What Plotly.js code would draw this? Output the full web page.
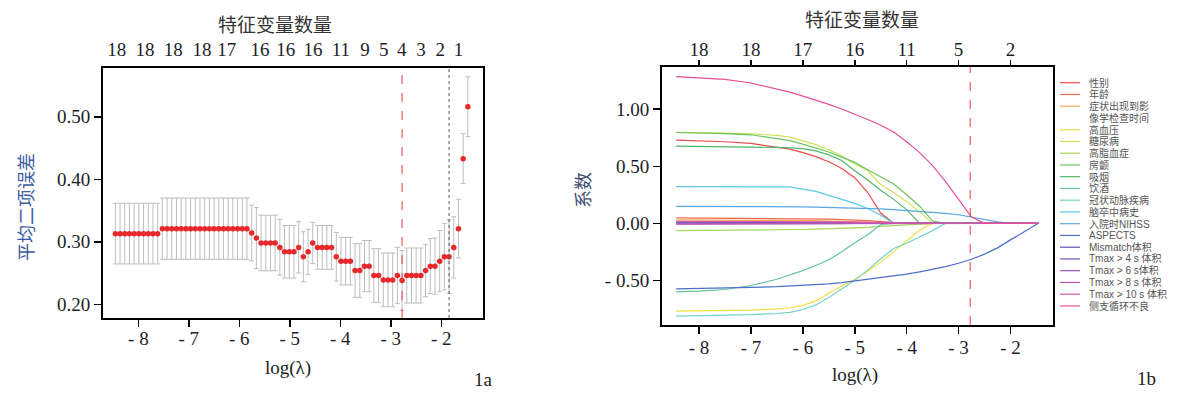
<!DOCTYPE html>
<html><head><meta charset="utf-8">
<script src="https://cdn.plot.ly/plotly-3.0.1.min.js"></script>
<style>html,body{margin:0;padding:0;background:#fff}</style>
</head><body><div id="chart" style="width:1179px;height:394px"></div>
<script>
// ---------- Panel 1a: cross-validation curve ----------
const logLambdaCV = [-8.455,-8.362,-8.269,-8.176,-8.083,-7.990,-7.896,-7.803,-7.710,-7.617,
 -7.524,-7.431,-7.338,-7.245,-7.152,-7.059,-6.965,-6.872,-6.779,-6.686,
 -6.593,-6.500,-6.407,-6.314,-6.221,-6.128,-6.034,-5.941,-5.848,-5.755,
 -5.662,-5.569,-5.476,-5.383,-5.290,-5.197,-5.104,-5.010,-4.917,-4.824,
 -4.731,-4.638,-4.545,-4.452,-4.359,-4.266,-4.173,-4.079,-3.986,-3.893,
 -3.800,-3.707,-3.614,-3.521,-3.428,-3.335,-3.242,-3.148,-3.055,-2.962,
 -2.869,-2.776,-2.683,-2.590,-2.497,-2.404,-2.311,-2.217,-2.124,-2.031,
 -1.938,-1.845,-1.752,-1.659,-1.566,-1.473];
const cvMean = [0.313,0.313,0.313,0.313,0.313,0.313,0.313,0.313,0.313,0.313,
 0.321,0.321,0.321,0.321,0.321,0.321,0.321,0.321,0.321,0.321,
 0.321,0.321,0.321,0.321,0.321,0.321,0.321,0.321,0.321,0.314,
 0.306,0.298,0.298,0.298,0.298,0.291,0.284,0.284,0.284,0.291,
 0.276,0.284,0.298,0.291,0.291,0.291,0.291,0.276,0.269,0.269,
 0.269,0.254,0.254,0.261,0.261,0.246,0.246,0.239,0.239,0.239,
 0.246,0.238,0.246,0.246,0.246,0.246,0.254,0.261,0.261,0.269,
 0.276,0.276,0.291,0.321,0.433,0.516];
const cvSD = [0.0485,0.0485,0.0485,0.0485,0.0485,0.0485,0.0485,0.0485,0.0485,0.0485,
 0.049,0.049,0.049,0.049,0.049,0.049,0.049,0.049,0.049,0.049,
 0.049,0.049,0.049,0.049,0.049,0.049,0.049,0.049,0.049,0.0445,
 0.049,0.0445,0.0445,0.0445,0.0445,0.0445,0.042,0.042,0.042,0.041,
 0.040,0.036,0.033,0.035,0.035,0.035,0.035,0.039,0.038,0.038,
 0.038,0.043,0.043,0.041,0.041,0.043,0.043,0.043,0.043,0.043,
 0.045,0.048,0.044,0.044,0.044,0.044,0.042,0.044,0.045,0.049,
 0.053,0.059,0.049,0.047,0.040,0.048];
const topTickX1 = [-8.43,-7.87,-7.31,-6.74,-6.25,-5.59,-5.08,-4.54,-3.99,-3.51,-3.14,-2.78,-2.40,-2.02,-1.66];
const topTickText1 = ['18','18','18','18','17','16','16','16','11','9','5','4','3','2','1'];
const xTickVals = [-8,-7,-6,-5,-4,-3,-2];
const xTickText = ['- 8','- 7','- 6','- 5','- 4','- 3','- 2'];
const yTickVals1 = [0.2,0.3,0.4,0.5];
const yTickText1 = ['0.20','0.30','0.40','0.50'];

// ---------- Panel 1b: coefficient paths ----------
const logLambdaPath = [-8.44,-8,-7.5,-7,-6.5,-6.25,-6,-5.75,-5.5,-5.25,-5,-4.75,-4.5,-4.25,-4,-3.75,-3.5,-3.25,-3,-2.75,-2.5,-2.25,-2,-1.75,-1.46];
const varNames = ['性别','年龄','症状出现到影\n像学检查时间','高血压','糖尿病','高脂血症','房颤','吸烟','饮酒','冠状动脉疾病','脑卒中病史','入院时NIHSS','ASPECTS','Mismatch体积','Tmax > 4 s 体积','Tmax > 6 s体积','Tmax > 8 s 体积','Tmax > 10 s 体积','侧支循环不良'];
const varColors = ['#ee4b4b','#f06a4a','#f6aa5c','#f0de3a','#cfe25a','#a8d65a','#6cc35a','#4fb86a','#62c4a0','#74d2c8','#5cc8e6','#5aa6e2','#4a6fc8','#5a58b8','#7a52b8','#9a52b6','#bc56b4','#d656a8','#e6509a'];
const coefSex      = [0.729,0.725,0.715,0.700,0.670,0.650,0.620,0.585,0.540,0.480,0.400,0.270,0.090,0,0,0,0,0,0,0,0,0,0,0,0];
const coefAge      = [0.047,0.046,0.045,0.044,0.042,0.041,0.040,0.038,0.036,0.033,0.030,0.024,0.015,0.005,0,0,0,0,0,0,0,0,0,0,0];
const coefOnset    = [0.030,0.030,0.029,0.028,0.027,0.026,0.025,0.023,0.021,0.018,0.015,0.011,0.007,0.003,0,-0.004,0,0,0,0,0,0,0,0,0];
const coefHTN      = [-0.770,-0.768,-0.765,-0.760,-0.750,-0.740,-0.720,-0.680,-0.610,-0.550,-0.490,-0.420,-0.340,-0.250,-0.150,-0.058,0,0,0,0,0,0,0,0,0];
const coefDM       = [0.796,0.795,0.790,0.785,0.770,0.755,0.720,0.690,0.645,0.590,0.520,0.460,0.340,0.270,0.190,0.100,0,0,0,0,0,0,0,0,0];
const coefLipid    = [-0.064,-0.063,-0.062,-0.060,-0.058,-0.056,-0.054,-0.051,-0.048,-0.046,-0.044,-0.035,-0.026,-0.018,-0.010,-0.004,0,0,0,0,0,0,0,0,0];
const coefAF       = [0.796,0.793,0.787,0.776,0.745,0.725,0.694,0.660,0.625,0.580,0.534,0.470,0.410,0.345,0.250,0.150,0.020,0,0,0,0,0,0,0,0];
const coefSmoke    = [0.676,0.675,0.673,0.670,0.665,0.662,0.655,0.635,0.600,0.550,0.460,0.380,0.290,0.210,0.120,0,0,0,0,0,0,0,0,0,0];
const coefAlcohol  = [-0.600,-0.595,-0.580,-0.545,-0.490,-0.455,-0.414,-0.370,-0.320,-0.250,-0.170,-0.100,-0.010,0,0,0,0,0,0,0,0,0,0,0,0];
const coefCAD      = [-0.813,-0.810,-0.805,-0.800,-0.790,-0.780,-0.755,-0.715,-0.650,-0.575,-0.500,-0.410,-0.310,-0.220,-0.175,-0.120,-0.064,0,0,0,0,0,0,0,0];
const coefStroke   = [0.321,0.321,0.322,0.323,0.323,0.320,0.300,0.280,0.245,0.210,0.175,0.130,0.070,0,0,0,0,0,0,0,0,0,0,0,0];
const coefNIHSS    = [0.149,0.149,0.148,0.148,0.147,0.146,0.145,0.142,0.140,0.137,0.134,0.130,0.126,0.120,0.113,0.106,0.098,0.088,0.075,0.052,0.030,0.012,0,0,0];
const coefASPECTS  = [-0.574,-0.572,-0.568,-0.562,-0.555,-0.550,-0.545,-0.538,-0.530,-0.520,-0.505,-0.492,-0.478,-0.463,-0.445,-0.425,-0.405,-0.380,-0.350,-0.315,-0.270,-0.215,-0.145,-0.080,0];
const coefMismatch = [0.010,0.010,0.010,0.009,0.009,0.009,0.008,0.008,0.007,0.006,0.005,0.003,0,0,0,0,0,0,0,0,0,0,0,0,0];
const coefTmax4    = [0.004,0.004,0.004,0.004,0.003,0.003,0.003,0.003,0.002,0.002,0.002,0.001,0.001,0,0,0,0,0,0,0,0,0,0,0,0];
const coefTmax6    = [-0.004,-0.004,-0.004,-0.004,-0.004,-0.003,-0.003,-0.003,-0.002,-0.002,-0.001,0,0,0,0,0,0,0,0,0,0,0,0,0,0];
const coefTmax8    = [-0.008,-0.008,-0.008,-0.007,-0.007,-0.007,-0.006,-0.005,-0.004,-0.002,0,0,0,0,0,0,0,0,0,0,0,0,0,0,0];
const coefTmax10   = [0.018,0.018,0.017,0.017,0.016,0.016,0.015,0.014,0.013,0.012,0.010,0.008,0.005,0.002,0,0,0,0,0,0,0,0,0,0,0];
const coefCollat   = [1.286,1.277,1.262,1.230,1.180,1.150,1.115,1.080,1.042,1.002,0.958,0.910,0.860,0.800,0.715,0.620,0.505,0.365,0.210,0.055,0,0,0,0,0];
const coefPaths = [coefSex,coefAge,coefOnset,coefHTN,coefDM,coefLipid,coefAF,coefSmoke,coefAlcohol,coefCAD,coefStroke,coefNIHSS,coefASPECTS,coefMismatch,coefTmax4,coefTmax6,coefTmax8,coefTmax10,coefCollat];
const topTickText2 = ['18','18','17','16','11','5','2'];
const yTickVals2 = [-0.5,0,0.5,1];
const yTickText2 = ['- 0.50','0.00','0.50','1.00'];

// lambda.min and lambda.1se from the CV curve
let iMin = 0;
cvMean.forEach((v,i)=>{ if (v < cvMean[iMin]) iMin = i; });
const lamMin = logLambdaCV[iMin];
const thr = cvMean[iMin] + cvSD[iMin];
let i1se = iMin;
for (let i = iMin; i < cvMean.length; i++) { if (cvMean[i] <= thr) i1se = i; else break; }
const lam1se = logLambdaCV[i1se];

// ---------- geometry helpers ----------
const W = 1179, H = 394;
const px = x => x / W, py = y => 1 - y / H;
const serif = 'Liberation Serif, Times New Roman, serif';
const cjk = 'Noto Sans CJK SC, sans-serif';
const tickFont = {family: serif, size: 19, color: '#1e1e28'};

const traces = [];
traces.push({
  x: logLambdaCV, y: cvMean, xaxis: 'x', yaxis: 'y', mode: 'markers', type: 'scatter',
  marker: {color: '#e8282a', size: 5.5},
  error_y: {type: 'data', array: cvSD, visible: true, color: '#bdbdbd', thickness: 1, width: 2.5},
  showlegend: false, hoverinfo: 'skip'
});
traces.push({x: topTickX1, y: topTickX1.map(()=>cvMean[0]), xaxis: 'x2', yaxis: 'y', mode: 'markers',
  marker: {opacity: 0}, showlegend: false, hoverinfo: 'skip'});
coefPaths.forEach((c, k) => {
  traces.push({x: logLambdaPath, y: c, xaxis: 'x3', yaxis: 'y3', mode: 'lines', type: 'scatter',
    line: {color: varColors[k], width: 1.2}, name: varNames[k], showlegend: false, hoverinfo: 'skip'});
});
traces.push({x: xTickVals, y: xTickVals.map(()=>0), xaxis: 'x4', yaxis: 'y3', mode: 'markers',
  marker: {opacity: 0}, showlegend: false, hoverinfo: 'skip'});

const frame = {showline: true, linewidth: 2, linecolor: '#000', mirror: true, showgrid: false, zeroline: false,
  ticks: 'outside', ticklen: 7, tickwidth: 1.5, tickcolor: '#000', tickfont: tickFont};

const shapes = [
  {type: 'line', xref: 'x', yref: 'y domain', x0: lamMin, x1: lamMin, y0: 0, y1: 1, line: {color: '#e83a3a', width: 1, dash: 'dash'}},
  {type: 'line', xref: 'x', yref: 'y domain', x0: lam1se, x1: lam1se, y0: 0, y1: 1, line: {color: '#555', width: 1, dash: 'dot'}},
  {type: 'line', xref: 'x3', yref: 'y3 domain', x0: lamMin, x1: lamMin, y0: 0, y1: 1, line: {color: '#e83a3a', width: 1, dash: 'dash'}}
];

const annotations = [
  {text: '特征变量数量', x: px(275), y: py(24), font: {family: cjk, size: 19, color: '#333'}},
  {text: '特征变量数量', x: px(862), y: py(18), font: {family: cjk, size: 19, color: '#333'}},
  {text: 'log(λ)', x: px(288), y: py(368), font: {family: serif, size: 19, color: '#222'}},
  {text: 'log(λ)', x: px(855), y: py(375), font: {family: serif, size: 19, color: '#222'}},
  {text: '1a', x: px(483), y: py(379), font: {family: serif, size: 19, color: '#222'}},
  {text: '1b', x: px(1146), y: py(378), font: {family: serif, size: 19, color: '#222'}},
  {text: '平均二项误差', x: px(25), y: py(207), textangle: -90, font: {family: cjk, size: 18, color: '#3b5ca3'}},
  {text: '系数', x: px(582), y: py(190), textangle: -90, font: {family: cjk, size: 18, color: '#3e4d70'}}
].map(a => Object.assign({xref: 'paper', yref: 'paper', showarrow: false, xanchor: 'center', yanchor: 'middle'}, a));

// custom compact legend
let row = 0;
const legFont = {family: 'Liberation Sans, ' + cjk, size: 10, color: '#555'};
varNames.forEach((n, k) => {
  const lines = n.split('\n');
  const yy = 82.7 + 11.75 * row;
  shapes.push({type: 'line', xref: 'paper', yref: 'paper', x0: px(1060), x1: px(1080), y0: py(yy), y1: py(yy),
    line: {color: varColors[k], width: 1.2}});
  lines.forEach((t, j) => {
    annotations.push({text: t, xref: 'paper', yref: 'paper', x: px(1087), y: py(82.7 + 11.75 * (row + j)),
      xanchor: 'left', yanchor: 'middle', showarrow: false, font: legFont});
  });
  row += lines.length;
});

const layout = {
  width: W, height: H, margin: {l: 0, r: 0, t: 0, b: 0}, paper_bgcolor: '#fff', plot_bgcolor: '#fff',
  showlegend: false,
  xaxis: Object.assign({}, frame, {domain: [px(103), px(483)], range: [-8.70, -1.173], anchor: 'y',
    tickmode: 'array', tickvals: xTickVals, ticktext: xTickText, ticklabelstandoff: -5}),
  yaxis: Object.assign({}, frame, {domain: [py(318), py(68)], range: [0.178, 0.578], anchor: 'x',
    tickmode: 'array', tickvals: yTickVals1, ticktext: yTickText1}),
  xaxis2: {overlaying: 'x', side: 'top', anchor: 'y', range: [-8.70, -1.173], tickmode: 'array',
    tickvals: topTickX1, ticktext: topTickText1, ticks: 'outside', ticklen: 3, tickcolor: 'rgba(0,0,0,0)',
    showline: false, showgrid: false, zeroline: false, tickfont: tickFont},
  xaxis3: Object.assign({}, frame, {domain: [px(662), px(1053)], range: [-8.713, -1.181], anchor: 'y3',
    tickmode: 'array', tickvals: xTickVals, ticktext: xTickText, ticklabelstandoff: -3}),
  yaxis3: Object.assign({}, frame, {domain: [py(325), py(67)], range: [-0.891, 1.37], anchor: 'x3',
    tickmode: 'array', tickvals: yTickVals2, ticktext: yTickText2}),
  xaxis4: {overlaying: 'x3', side: 'top', anchor: 'y3', range: [-8.713, -1.181], tickmode: 'array',
    tickvals: xTickVals, ticktext: topTickText2, ticks: 'outside', ticklen: 6, tickwidth: 1.5, tickcolor: '#000',
    ticklabelstandoff: -4,
    showline: false, showgrid: false, zeroline: false, tickfont: tickFont},
  shapes: shapes,
  annotations: annotations
};

Plotly.newPlot('chart', traces, layout, {staticPlot: true, displayModeBar: false});
</script></body></html>
